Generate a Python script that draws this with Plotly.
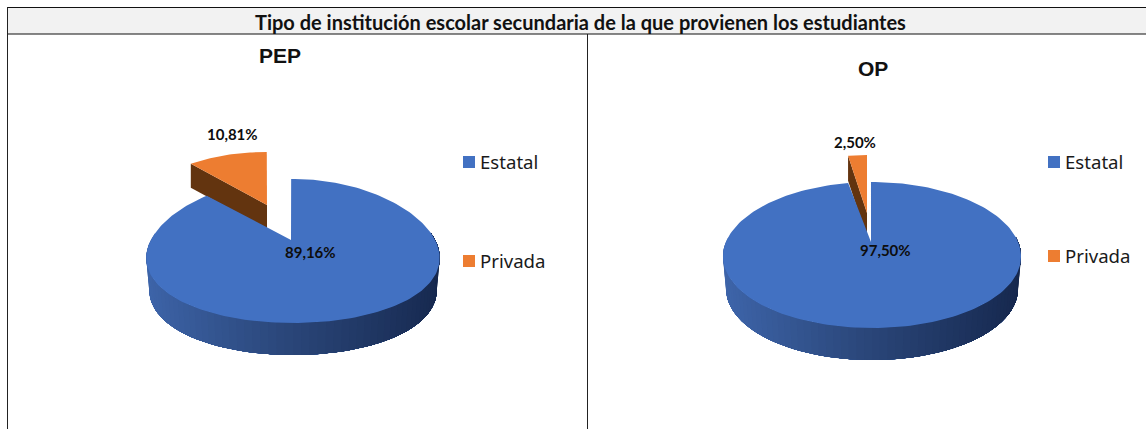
import numpy as np
import plotly.graph_objects as go

categories = ["Estatal", "Privada"]
pep_values = [89.16, 10.81]
op_values = [97.50, 2.50]
chart_titles = ["PEP", "OP"]
main_title = "Tipo de institución escolar secundaria de la que provienen los estudiantes"

BLUE, ORANGE, BROWN = "#4271c2", "#ed7d31", "#63340f"
W, H = 1146, 429

PIES = [
    dict(values=pep_values, title=chart_titles[0], title_xy=(280, 55),
         main=dict(cx=293, cy=251, a=146, b=72, ax=291, ay=240, depth=32, persp=0.10, rot=-0.014),
         small=dict(cx=267, cy=205, a=121, b=53, depth=24),
         big_label=(310, 252), small_label=(232, 134),
         legend_x=463, legend_y=(162, 261)),
    dict(values=op_values, title=chart_titles[1], title_xy=(873, 68),
         main=dict(cx=872, cy=255, a=149, b=73, ax=871, ay=242, depth=32, persp=0.02, rot=-0.007),
         small=dict(cx=867, cy=213, a=121, b=58, depth=25),
         big_label=(885, 250), small_label=(855, 142),
         legend_x=1048, legend_y=(162, 256)),
]


def point(g, theta, persp=0.0):
    s, c = np.sin(theta), np.cos(theta)
    return g["cx"] + g["a"] * s * (1 - persp * c), g["cy"] - g["b"] * c


def poly(fig, x, y, color, name=None):
    fig.add_trace(go.Scatter(x=list(x), y=list(y), mode="lines", fill="toself", fillcolor=color,
                             line=dict(color=color, width=0), showlegend=False,
                             name=name or "", hoverinfo="name" if name else "skip"))


def lerp_color(t):
    stops = [(0.0, (62, 101, 170)), (0.45, (43, 72, 124)), (1.0, (22, 40, 78))]
    for (t0, c0), (t1, c1) in zip(stops, stops[1:]):
        if t <= t1:
            f = (t - t0) / (t1 - t0)
            return "rgb(%d,%d,%d)" % tuple(round(a + (b - a) * f) for a, b in zip(c0, c1))
    return "rgb(22,40,78)"


fig = go.Figure()

for pie in PIES:
    big, small = pie["values"]
    m, o = pie["main"], pie["small"]
    sweep = 2 * np.pi * big / 100
    total = 2 * np.pi * (big + small) / 100

    # exploded small slice: wall then top
    t_small = np.linspace(sweep, total, 40)
    ox = o["cx"] + o["a"] * np.sin(t_small)
    oy = o["cy"] - o["b"] * np.cos(t_small)
    poly(fig, [ox[0], o["cx"], o["cx"], ox[0]],
         [oy[0], o["cy"], o["cy"] + o["depth"], oy[0] + o["depth"]], BROWN)
    poly(fig, [o["cx"], *ox], [o["cy"], *oy], ORANGE, categories[1])

    # side wall of the main slice: overlapping gradient bands, painted left to right
    t_end = np.pi / 2 - 0.25
    edges = np.linspace(3 * np.pi / 2 + 0.25, t_end, 71)
    shrink = 1 - 3 / m["a"]
    for i in range(70):
        t = np.linspace(edges[i], t_end, max(3, 70 - i))
        tx, ty = point(m, t, m["persp"])
        mid = (edges[i] + edges[i + 1]) / 2
        shade = (1 - np.sin(mid)) / 2  # 1 at left, 0 at right
        wx = m["cx"] + (tx - m["cx"]) * shrink
        wy = ty + m["depth"]
        poly(fig, [*tx, *wx[::-1]], [*ty, *wy[::-1]], lerp_color(1 - min(shade, 1)))

    # top of the main slice
    t_big = np.linspace(m["rot"], m["rot"] + sweep, 200)
    bx, by = point(m, t_big, m["persp"])
    poly(fig, [m["ax"], *bx], [m["ay"], *by], BLUE, categories[0])

    # value labels
    for (x, y), v in zip((pie["big_label"], pie["small_label"]), pie["values"]):
        fig.add_annotation(x=x, y=y, text=f"<b>{v:.2f}%</b>".replace(".", ","), showarrow=False,
                           font=dict(family="Lato", size=15, color="#0d0d0d"),
                           xanchor="center", yanchor="middle")

    # chart title
    fig.add_annotation(x=pie["title_xy"][0], y=pie["title_xy"][1], text=f"<b>{pie['title']}</b>",
                       showarrow=False, font=dict(family="Liberation Sans", size=21, color="#111111"),
                       xanchor="center", yanchor="middle")

    # legend
    fig.add_trace(go.Scatter(x=[pie["legend_x"] + 6] * 2, y=list(pie["legend_y"]), mode="markers",
                             marker=dict(symbol="square", size=12, color=[BLUE, ORANGE], line=dict(width=0)),
                             showlegend=False, hoverinfo="skip"))
    for c, y in zip(categories, pie["legend_y"]):
        fig.add_annotation(x=pie["legend_x"] + 17, y=y - 1, text=c, showarrow=False, xanchor="left",
                           yanchor="middle", xshift=-2,
                           font=dict(family="Noto Sans", size=18.6, color="#1a1a1a"))

# table frame
shapes = [
    dict(type="rect", x0=7, x1=W, y0=7, y1=34, fillcolor="#f2f2f2", line=dict(width=0), layer="below"),
    dict(type="line", x0=7, x1=W, y0=7.5, y1=7.5, line=dict(color="#111111", width=1.2)),
    dict(type="line", x0=7, x1=W, y0=34, y1=34, line=dict(color="#111111", width=1.2)),
    dict(type="line", x0=7.5, x1=7.5, y0=7, y1=H, line=dict(color="#222222", width=1)),
    dict(type="line", x0=587.5, x1=587.5, y0=34, y1=H, line=dict(color="#222222", width=1)),
]
fig.add_annotation(x=580, y=21.5, text=f"<b>{main_title}</b>", showarrow=False,
                   font=dict(family="Lato", size=20, color="#111111"), xanchor="center", yanchor="middle")

fig.update_layout(
    width=W, height=H, margin=dict(l=0, r=0, t=0, b=0), paper_bgcolor="white", plot_bgcolor="white",
    xaxis=dict(range=[0, W], visible=False, fixedrange=True),
    yaxis=dict(range=[H, 0], visible=False, fixedrange=True),
    shapes=shapes, showlegend=False,
)
fig.write_html("out.html", post_script="document.body.style.margin='0';", config={"displayModeBar": False})
